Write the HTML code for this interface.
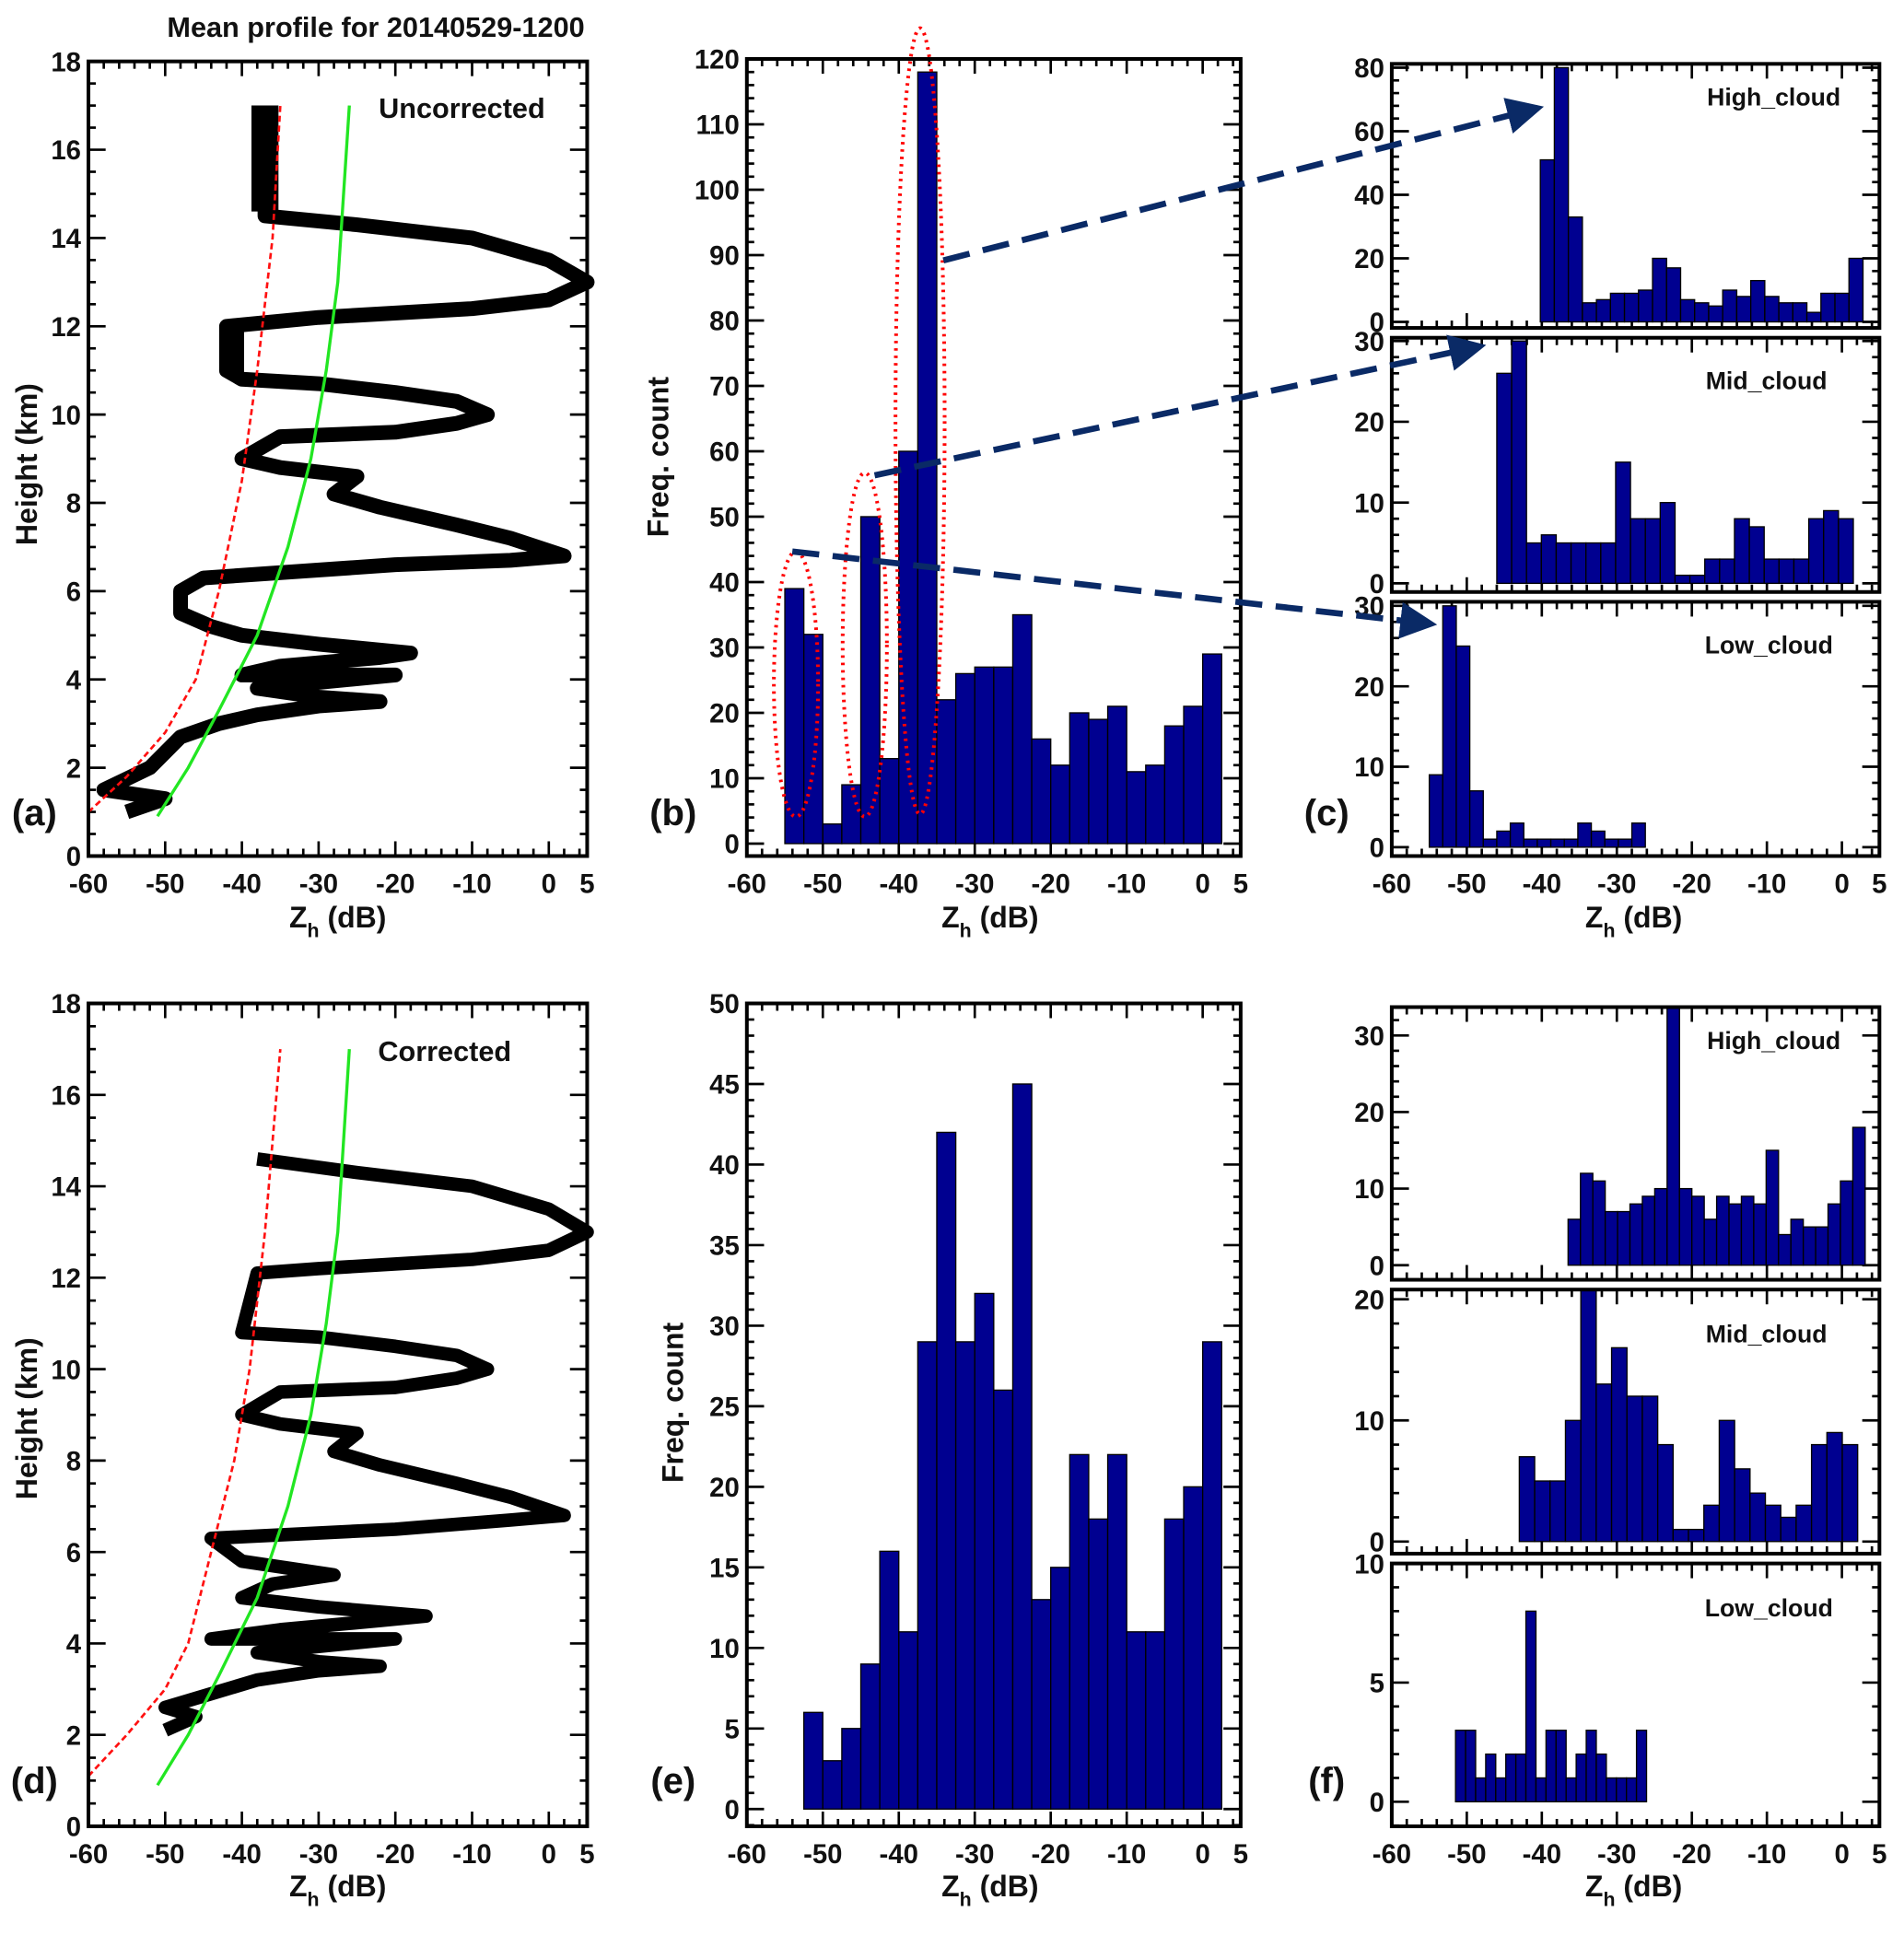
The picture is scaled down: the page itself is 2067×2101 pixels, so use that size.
<!DOCTYPE html>
<html><head><meta charset="utf-8"><style>
html,body{margin:0;padding:0;background:#fff}
svg{display:block}
text{font-family:"Liberation Sans",Arial,sans-serif;font-weight:bold;fill:#111}
</style></head><body>
<svg id="fig" width="2067" height="2101" viewBox="0 0 1550 1575.5" preserveAspectRatio="none" xmlns="http://www.w3.org/2000/svg">
<g id="layer"></g>
</svg>
<script>
// ---- data ----
const binB = [39,32,3,9,50,13,60,118,22,26,27,27,35,16,12,20,19,21,11,12,18,21,29];
const binBStart = -55, binBWidth = 2.5;
const binE = [6,3,5,9,16,11,29,42,29,32,26,45,13,15,22,18,22,11,11,18,20,29];
const binEStart = -52.5, binEWidth = 2.5;
const cHigh = [51,80,33,6,7,9,9,10,20,17,7,6,5,10,8,13,8,6,6,3,9,9,20];
const cHighStart = -40.2, cHighWidth = 1.87;
const cMid = [26,30,5,6,5,5,5,5,15,8,8,10,1,1,3,3,8,7,3,3,3,8,9,8];
const cMidStart = -46, cMidWidth = 1.98;
const cLow = [9,30,25,7,1,2,3,1,1,1,1,3,2,1,1,3];
const cLowStart = -55, cLowWidth = 1.8;
const fHigh = [6,12,11,7,7,8,9,10,34,10,9,6,9,8,9,8,15,4,6,5,5,8,11,18];
const fHighStart = -36.5, fHighWidth = 1.65;
const fMid = [7,5,5,10,21,13,16,12,12,8,1,1,3,10,6,4,3,2,3,8,9,8];
const fMidStart = -43, fMidWidth = 2.05;
const fLow = [3,3,1,2,1,2,2,8,1,3,3,1,2,3,2,1,1,1,3];
const fLowStart = -51.5, fLowWidth = 1.34;
const profUncZ = [-55,-50,-58,-52,-48,-43,-38,-30,-22,-30,-38,-32,-20,-40,-35,-22,-18,-30,-40,-44,-48,-48,-45,-20,-5,2,-5,-12,-22,-28,-25,-35,-40,-35,-20,-12,-8,-12,-20,-30,-40,-42,-42,-30,-10,0,5,0,-10,-25,-37,-37,-37];
const profUncH = [1.0,1.3,1.5,2,2.7,3.0,3.2,3.4,3.5,3.6,3.8,3.9,4.1,4.1,4.3,4.5,4.6,4.8,5.0,5.2,5.5,6.0,6.3,6.6,6.7,6.8,7.2,7.5,7.9,8.2,8.6,8.8,9.0,9.5,9.6,9.8,10.0,10.3,10.5,10.7,10.8,11,12,12.2,12.4,12.6,13,13.5,14,14.3,14.5,15,17];
const profCorZ = [-50,-46,-50,-44,-38,-30,-22,-30,-38,-32,-20,-44,-35,-22,-16,-30,-40,-36,-28,-40,-44,-20,-5,2,-5,-12,-22,-28,-25,-35,-40,-35,-20,-12,-8,-12,-20,-30,-40,-38,-30,-10,0,5,0,-10,-25,-38];
const profCorH = [2.1,2.4,2.6,2.9,3.2,3.4,3.5,3.6,3.8,3.9,4.1,4.1,4.3,4.5,4.6,4.8,5.0,5.3,5.5,5.8,6.3,6.5,6.7,6.8,7.2,7.5,7.9,8.2,8.6,8.8,9.0,9.5,9.6,9.8,10.0,10.3,10.5,10.7,10.8,12.1,12.2,12.4,12.6,13,13.5,14,14.3,14.6];
const redUncZ = [-60,-55,-50,-46,-43,-40,-38,-36,-35];
const redUncH = [1,1.8,2.8,4,6,8.5,11,14,17];
const redCorZ = [-60,-55,-50,-47,-44,-41,-39,-37,-35];
const redCorH = [1.1,2,3,4,6,8,10,13,17];
const greenZ = [-51,-47,-43,-38,-34,-31,-29,-27.5,-26];
const greenH = [0.9,2,3.3,5,7,9,11,13,17];
const xTicks = [-60,-50,-40,-30,-20,-10,0,5];

const NS="http://www.w3.org/2000/svg";
const layer=document.getElementById('layer');
function mk(tag,attrs,parent){const e=document.createElementNS(NS,tag);for(const k in attrs)e.setAttribute(k,attrs[k]);(parent||layer).appendChild(e);return e;}
function txt(x,y,s,size,anchor,parent){const t=mk('text',{x:x,y:y,'font-size':size,'text-anchor':anchor||'middle'},parent);t.textContent=s;return t;}

function panel(name,L,R,T,B,ymin,ymax,yMajor,yMinor,showX){
  const g=mk('g',{});
  
  
  const sx=v=>L+(v+60)/65*(R-L);
  const sy=v=>B-(v-ymin)/(ymax-ymin)*(B-T);
  for(let v=-60;v<=5;v+=2){const len=(v%10===0)?12:6;const x=sx(v);
    mk('line',{x1:x,x2:x,y1:B,y2:B-len,stroke:'#000','stroke-width':2},g);
    mk('line',{x1:x,x2:x,y1:T,y2:T+len,stroke:'#000','stroke-width':2},g);}
  for(let v=Math.ceil(ymin/yMinor)*yMinor;v<=ymax+1e-6;v+=yMinor){const y=sy(v);const maj=Math.abs(v/yMajor-Math.round(v/yMajor))<1e-6;const len=maj?14:6;
    mk('line',{x1:L,x2:L+len,y1:y,y2:y,stroke:'#000','stroke-width':2},g);
    mk('line',{x1:R,x2:R-len,y1:y,y2:y,stroke:'#000','stroke-width':2},g);
    if(maj){const t=txt(L-6,y+8,String(Math.round(v)),22,'end',g);}}
  if(showX){xTicks.forEach(v=>{const t=txt(sx(v),B+30,String(v),22,'middle',g);});}
  return {g,sx,sy,L,R,T,B};
}
function frame(p){mk('rect',{x:p.L,y:p.T,width:p.R-p.L,height:p.B-p.T,fill:'none',stroke:'#000','stroke-width':3},p.g);}
function hist(p,vals,start,w,name){
  vals.forEach((v,i)=>{const x0=p.sx(start+i*w),x1=p.sx(start+(i+1)*w),y=p.sy(v),y0=p.sy(0);
    const r=mk('rect',{x:x0,y:Math.max(y,p.T),width:x1-x0,height:y0-Math.max(y,p.T),fill:'#000090',stroke:'#000','stroke-width':1},p.g);
    
    });
}
function line(p,zs,hs,attrs,name){
  const pts=zs.map((z,i)=>p.sx(z).toFixed(1)+','+p.sy(hs[i]).toFixed(1)).join(' ');
  const l=mk('polyline',Object.assign({points:pts,fill:'none'},attrs),p.g);
  
  
}

// Panel a
const pa=panel('panel-a-uncorrected-profile',72,478,50,697,0,18,2,0.5,true);
line(pa,profUncZ,profUncH,{stroke:'#000','stroke-width':12,'stroke-linejoin':'round'},'profile-uncorrected');
line(pa,[-37,-37],[14.6,17],{stroke:'#000','stroke-width':22},'profile-uncorrected-top');
line(pa,[-41,-41],[10.9,12.1],{stroke:'#000','stroke-width':16},'profile-uncorrected-mid');
line(pa,redUncZ,redUncH,{stroke:'#ff1010','stroke-width':2,'stroke-dasharray':'5,3'},'red-dashed-curve');
line(pa,greenZ,greenH,{stroke:'#22e622','stroke-width':2.5},'green-curve');
frame(pa);
txt(376,96,'Uncorrected',23,'middle',pa.g);
// Panel d
const pd=panel('panel-d-corrected-profile',72,478,817,1487,0,18,2,0.5,true);
line(pd,profCorZ,profCorH,{stroke:'#000','stroke-width':11,'stroke-linejoin':'round'},'profile-corrected');
line(pd,redCorZ,redCorH,{stroke:'#ff1010','stroke-width':2,'stroke-dasharray':'5,3'},'red-dashed-curve');
line(pd,greenZ,greenH,{stroke:'#22e622','stroke-width':2.5},'green-curve');
frame(pd);
txt(362,864,'Corrected',23,'middle',pd.g);
// Panel b
const pb=panel('panel-b-histogram',608,1010,48,697,-1.9,120,10,2,true);
hist(pb,binB,binBStart,binBWidth,'hist-b');frame(pb);
// Panel e
const pe=panel('panel-e-histogram',608,1010,817,1487,-1.07,50,5,1,true);
hist(pe,binE,binEStart,binEWidth,'hist-e');frame(pe);
// Panel c
const pc1=panel('panel-c-high-cloud',1133,1530,52,267,-1.9,81.2,20,4,false);
hist(pc1,cHigh,cHighStart,cHighWidth,'c-high');frame(pc1);txt(1444,86,'High_cloud',20,'middle',pc1.g);
const pc2=panel('panel-c-mid-cloud',1133,1530,275,482,-1.07,30.4,10,2,false);
hist(pc2,cMid,cMidStart,cMidWidth,'c-mid');frame(pc2);txt(1438,317,'Mid_cloud',20,'middle',pc2.g);
const pc3=panel('panel-c-low-cloud',1133,1530,490,697,-1.1,30.5,10,2,true);
hist(pc3,cLow,cLowStart,cLowWidth,'c-low');frame(pc3);txt(1440,532,'Low_cloud',20,'middle',pc3.g);
// Panel f
const pf1=panel('panel-f-high-cloud',1133,1530,820,1042,-1.9,33.7,10,2,false);
hist(pf1,fHigh,fHighStart,fHighWidth,'f-high');frame(pf1);txt(1444,854,'High_cloud',20,'middle',pf1.g);
const pf2=panel('panel-f-mid-cloud',1133,1530,1050,1265,-1,20.8,10,2,false);
hist(pf2,fMid,fMidStart,fMidWidth,'f-mid');frame(pf2);txt(1438,1093,'Mid_cloud',20,'middle',pf2.g);
const pf3=panel('panel-f-low-cloud',1133,1530,1273,1487,-1.03,10,5,1,true);
hist(pf3,fLow,fLowStart,fLowWidth,'f-low');frame(pf3);txt(1440,1316,'Low_cloud',20,'middle',pf3.g);

// red dotted ellipses
[[648,557,18,108],[704,525,18,140],[749,343,20,320]].forEach(e=>{
  const el=mk('ellipse',{cx:e[0],cy:e[1],rx:e[2],ry:e[3],fill:'none',stroke:'#ff0000','stroke-width':3,'stroke-dasharray':'2,4'});
  
  
});
// dashed arrows
const defs=mk('defs',{});
const m=mk('marker',{id:'ah',markerWidth:6,markerHeight:6,refX:5,refY:3,orient:'auto'},defs);
mk('path',{d:'M0,0 L6,3 L0,6 z',fill:'#0a2a66'},m);
[[768,212,1252,88],[712,387,1205,282],[645,449,1165,508]].forEach(a=>{
  const l=mk('line',{x1:a[0],y1:a[1],x2:a[2],y2:a[3],stroke:'#0a2a66','stroke-width':5,'stroke-dasharray':'22,11','marker-end':'url(#ah)'});
  
  
});

// titles/labels
txt(306,30,'Mean profile for 20140529-1200',23,'middle');
[[30,378],[30,1155]].forEach(p=>{const t=txt(p[0],p[1],'Height (km)',24,'middle');t.setAttribute('transform','rotate(-90 '+p[0]+' '+p[1]+')');});
[[544,372],[556,1142]].forEach(p=>{const t=txt(p[0],p[1],'Freq. count',24,'middle');t.setAttribute('transform','rotate(-90 '+p[0]+' '+p[1]+')');});
[[275,755],[806,755],[1330,755],[275,1544],[806,1544],[1330,1544]].forEach(p=>{
  const t=mk('text',{x:p[0],y:p[1],'font-size':24,'text-anchor':'middle'});
  t.innerHTML='Z<tspan font-size="16" dy="8">h</tspan><tspan dy="-8"> (dB)</tspan>';
  
});
[['(a)',28,672],['(b)',548,672],['(c)',1080,672],['(d)',28,1460],['(e)',548,1460],['(f)',1080,1460]].forEach(p=>{
  const t=txt(p[1],p[2],p[0],30,'middle');});
</script>
</body></html>
